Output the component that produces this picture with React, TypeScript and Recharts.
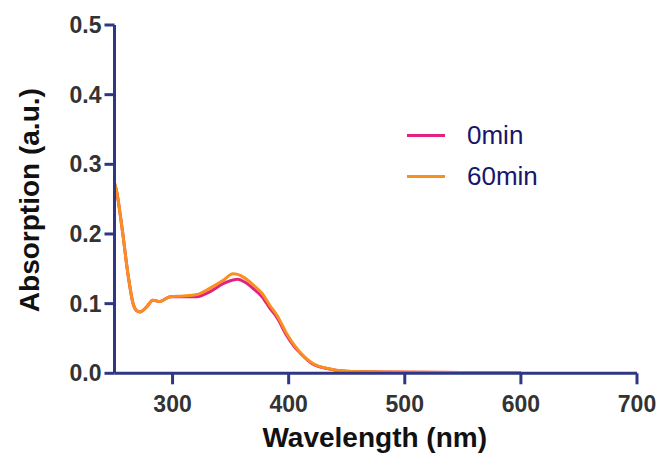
import React from "react";
import { LineChart, Line, XAxis, YAxis, Legend } from "recharts";

const wavelengths = [250, 252, 255, 257.5, 260, 263, 266, 269, 272, 275, 278, 283, 289, 298, 309, 321, 332, 344, 352, 356, 362, 370, 377, 384, 390, 398, 405, 410, 421, 433, 450, 480, 550, 600];
const abs0min = [0.273, 0.26, 0.227, 0.196, 0.162, 0.127, 0.1, 0.09, 0.088, 0.091, 0.096, 0.105, 0.103, 0.11, 0.11, 0.11, 0.117, 0.129, 0.134, 0.135, 0.131, 0.121, 0.11, 0.093, 0.08, 0.055, 0.038, 0.029, 0.013, 0.007, 0.003, 0.002, 0.001, 0.001];
const abs60min = [0.273, 0.26, 0.227, 0.196, 0.162, 0.127, 0.1, 0.09, 0.088, 0.091, 0.096, 0.105, 0.103, 0.11, 0.111, 0.113, 0.122, 0.134, 0.143, 0.142, 0.137, 0.126, 0.115, 0.097, 0.083, 0.058, 0.04, 0.03, 0.014, 0.007, 0.003, 0.002, 0.001, 0.001];
const xTicks = [300, 400, 500, 600, 700];
const yTicks = [0, 0.1, 0.2, 0.3, 0.4, 0.5];
const seriesNames = ["0min", "60min"];
const seriesColors = ["#e3217f", "#f7901e"];

const data = wavelengths.map((w, i) => ({ w, a0: abs0min[i], a60: abs60min[i] }));

const FONT = "Liberation Sans, Arial, sans-serif";
const axisColor = "#2f3784";
const tickStyle = { fill: "#333333", fontSize: 23, fontWeight: 700, fontFamily: FONT };

const LegendContent = () => (
  <div style={{ fontFamily: FONT }}>
    {seriesNames.map((n, i) => (
      <div key={n} style={{ display: "flex", alignItems: "center", height: 41 }}>
        <div style={{ width: 38, height: 3, background: seriesColors[i], marginRight: 22 }} />
        <span style={{ fontSize: 26, color: "#16166c", lineHeight: "41px" }}>{n}</span>
      </div>
    ))}
  </div>
);

const XTitle = (props: any) => {
  const vb = props.viewBox || {};
  return (
    <text x={vb.x + vb.width / 2 - 1} y={vb.y + 74} textAnchor="middle" fill="#111" fontSize={28} fontWeight={700} fontFamily={FONT}>
      Wavelength (nm)
    </text>
  );
};

const YTitle = (props: any) => {
  const vb = props.viewBox || {};
  const cx = 39;
  const cy = vb.y + vb.height / 2 + 1;
  return (
    <text x={cx} y={cy} transform={`rotate(-90 ${cx} ${cy})`} textAnchor="middle" fill="#111" fontSize={28} fontWeight={700} fontFamily={FONT}>
      Absorption (a.u.)
    </text>
  );
};

export default function App() {
  return (
    <div style={{ position: "absolute", left: 0, top: 0, width: 661, height: 454, background: "#fff" }}>
      <LineChart width={661} height={454} data={data} margin={{ top: 25, right: 24, bottom: 0, left: 0 }}>
        <XAxis
          dataKey="w"
          type="number"
          domain={[250, 700]}
          ticks={xTicks}
          allowDataOverflow
          height={80.7}
          stroke={axisColor}
          strokeWidth={3}
          tickSize={11}
          tickMargin={11}
          tick={tickStyle}
          label={<XTitle />}
        />
        <YAxis
          type="number"
          domain={[0, 0.5]}
          ticks={yTicks}
          width={114.5}
          stroke={axisColor}
          strokeWidth={3}
          tickSize={10}
          tickMargin={3}
          tick={tickStyle}
          tickFormatter={(v: number) => v.toFixed(1)}
          label={<YTitle />}
        />
        <Legend
          layout="vertical"
          verticalAlign="middle"
          align="center"
          content={<LegendContent />}
          wrapperStyle={{ left: 407, top: 115, width: 170 }}
        />
        <Line type="monotone" dataKey="a0" name={seriesNames[0]} stroke={seriesColors[0]} strokeWidth={3} dot={false} isAnimationActive={false} />
        <Line type="monotone" dataKey="a60" name={seriesNames[1]} stroke={seriesColors[1]} strokeWidth={3} dot={false} isAnimationActive={false} />
      </LineChart>
    </div>
  );
}
